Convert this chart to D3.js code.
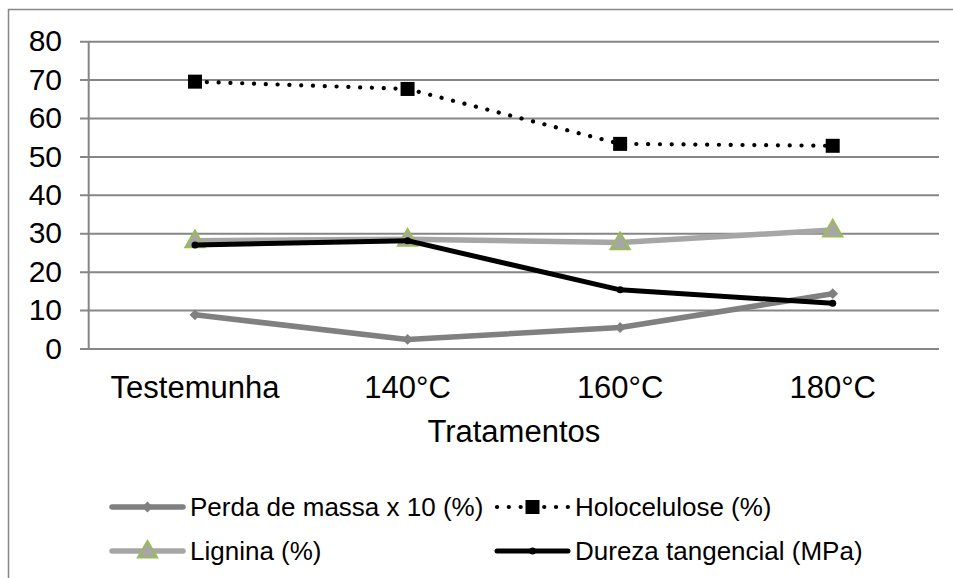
<!DOCTYPE html>
<html>
<head>
<meta charset="utf-8">
<script src="https://cdn.jsdelivr.net/npm/d3@7"></script>
<style>
body{margin:0;background:#fff;}
svg{display:block;font-family:"Liberation Sans",Arial,sans-serif;}
</style>
</head>
<body>
<svg id="c" width="953" height="578"></svg>
<script>
const categories = ["Testemunha","140°C","160°C","180°C"];
const perda = [8.9, 2.5, 5.6, 14.4];
const holocelulose = [69.6, 67.7, 53.4, 52.9];
const lignina = [28.2, 28.6, 27.7, 31.0];
const dureza = [27.1, 28.2, 15.4, 11.9];
const yTicks = [0,10,20,30,40,50,60,70,80];
const xTitle = "Tratamentos";
const seriesNames = ["Perda de massa x 10 (%)","Holocelulose (%)","Lignina (%)","Dureza tangencial (MPa)"];

(function(){
const svg = d3.select("#c");
const pLeft = 88.7, pRight = 939, pTop = 41.7, pBottom = 349;
const grid = "#868686";

svg.append("rect").attr("x",8.5).attr("y",9.5).attr("width",960).attr("height",600)
  .attr("fill","none").attr("stroke",grid).attr("stroke-width",1.5);

const x = d3.scaleBand().domain(categories).range([pLeft,pRight]);
const y = d3.scaleLinear().domain([0,80]).range([pBottom,pTop]);

svg.append("g").selectAll("line").data(yTicks).join("line")
  .attr("x1",80).attr("x2",pRight).attr("y1",d=>y(d)).attr("y2",d=>y(d))
  .attr("stroke",grid).attr("stroke-width",2);
svg.append("line").attr("x1",pLeft).attr("x2",pLeft).attr("y1",pTop).attr("y2",pBottom)
  .attr("stroke",grid).attr("stroke-width",2);

svg.append("g").selectAll("text").data(yTicks).join("text")
  .attr("x",62).attr("y",d=>y(d)).attr("dy","0.32em").attr("text-anchor","end")
  .attr("font-size",30).attr("fill","#000").text(d=>d);

svg.append("g").selectAll("text").data(categories).join("text")
  .attr("x",d=>x(d)+x.bandwidth()/2).attr("y",397.5).attr("text-anchor","middle")
  .attr("font-size",31).attr("fill","#000").text(d=>d);

svg.append("text").attr("x",(pLeft+pRight)/2).attr("y",441.5).attr("text-anchor","middle")
  .attr("font-size",31).attr("fill","#000").text(xTitle);

const cx = d=>x(d)+x.bandwidth()/2;
const line = d3.line().x((d,i)=>cx(categories[i])).y(d=>y(d));

const diamond = d3.symbol().type(d3.symbolDiamond2).size(75);
const tri = d3.symbol().type(d3.symbolTriangle).size(160);

function drawPerda(g, pts){
  g.selectAll("path.m").data(pts).join("path").attr("class","m")
   .attr("transform",p=>`translate(${p[0]},${p[1]})`).attr("d",diamond).attr("fill","#808080");
}
function drawHolo(g, pts){
  g.selectAll("rect.m").data(pts).join("rect").attr("class","m")
   .attr("x",p=>p[0]-7).attr("y",p=>p[1]-7).attr("width",14).attr("height",14).attr("fill","#000");
}
function drawLig(g, pts){
  g.selectAll("path.m").data(pts).join("path").attr("class","m")
   .attr("transform",p=>`translate(${p[0]},${p[1]+1})`).attr("d",tri)
   .attr("fill","#a6a6a6").attr("stroke","#9bbb59").attr("stroke-width",2);
}
function drawDur(g, pts){
  g.selectAll("circle.m").data(pts).join("circle").attr("class","m")
   .attr("cx",p=>p[0]).attr("cy",p=>p[1]).attr("r",3.5).attr("fill","#000");
}

const series = [
  {vals:perda, stroke:"#808080", w:5.5, dash:null, draw:drawPerda},
  {vals:holocelulose, stroke:"#000", w:4.2, dash:"0.1 11.7", draw:drawHolo},
  {vals:lignina, stroke:"#a6a6a6", w:5.5, dash:null, draw:drawLig},
  {vals:dureza, stroke:"#000", w:5, dash:null, draw:drawDur}
];
series.forEach(s=>{
  const g = svg.append("g");
  g.append("path").attr("d",line(s.vals)).attr("fill","none").attr("stroke",s.stroke)
   .attr("stroke-width",s.w).attr("stroke-linecap","round").attr("stroke-linejoin","round")
   .attr("stroke-dasharray",s.dash);
  s.draw(g, s.vals.map((v,i)=>[cx(categories[i]), y(v)]));
});

const legPos = [[112,507],[497,507],[112,551],[497,551]];
series.forEach((s,i)=>{
  const [lx,ly] = legPos[i];
  const g = svg.append("g");
  g.append("line").attr("x1",lx).attr("x2",lx+71).attr("y1",ly).attr("y2",ly)
   .attr("stroke",s.stroke).attr("stroke-width",s.w).attr("stroke-linecap","round")
   .attr("stroke-dasharray",s.dash);
  s.draw(g, [[lx+35.5, ly]]);
  g.append("text").attr("x",lx+78).attr("y",ly).attr("dy","0.33em")
   .attr("font-size",26).attr("fill","#000").text(seriesNames[i]);
});
})();
</script>
</body>
</html>
